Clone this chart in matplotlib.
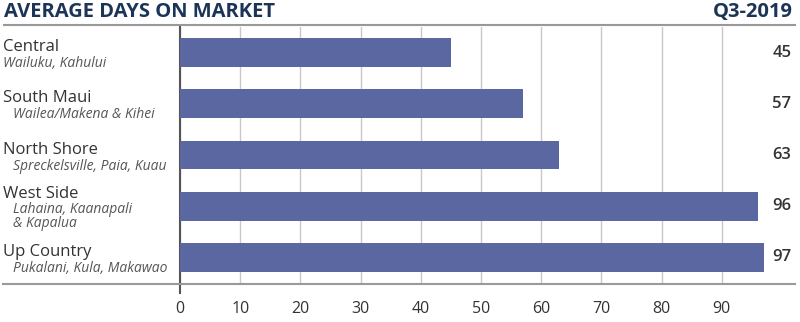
import matplotlib.pyplot as plt
from matplotlib.lines import Line2D

regions = ["Central", "South Maui", "North Shore", "West Side", "Up Country"]
subareas = ["Wailuku, Kahului", "Wailea/Makena & Kihei", "Spreckelsville, Paia, Kuau",
            "Lahaina, Kaanapali\n& Kapalua", "Pukalani, Kula, Makawao"]
sub_indent = [0, 1, 1, 1, 1]
days = [45, 57, 63, 96, 97]
xticks = [0, 10, 20, 30, 40, 50, 60, 70, 80, 90]
title = "AVERAGE DAYS ON MARKET"
period = "Q3-2019"

W, H = 800, 322
fig = plt.figure(figsize=(W / 100, H / 100), dpi=100)
plt.rcParams['font.family'] = ['Open Sans', 'DejaVu Sans']

def fx(px):
    return px / W

def fy(py):
    return 1 - py / H

ax = fig.add_axes([fx(180), fy(283), fx(770) - fx(180), fy(27) - fy(283)])
bar_color = "#5b67a0"
ypos = list(range(len(regions)))
ax.barh(ypos, days, height=0.56, color=bar_color, zorder=3)
ax.set_ylim(len(regions) - 0.5, -0.5)
ax.set_xlim(0, 98)
ax.set_xticks(xticks)
ax.set_xticklabels([str(t) for t in xticks], fontsize=11.5, color="#333333")
ax.tick_params(axis='x', length=0, pad=13)
ax.set_yticks([])
ax.grid(axis='x', color="#c8c8c8", linewidth=1, zorder=0)
for s in ['top', 'right', 'bottom']:
    ax.spines[s].set_visible(False)
ax.spines['left'].set_color("#555555")
ax.spines['left'].set_linewidth(1.5)
ax.spines['left'].set_bounds(-0.5, 4.7)

# value labels
for y, v in zip(ypos, days):
    ax.text(1.0 + (782 - 770) / (770 - 180), y, str(v), transform=ax.get_yaxis_transform(),
            ha='center', va='center', fontsize=12, color="#333333", fontweight='semibold')

# category labels
for y, (r, s, ind) in zip(ypos, zip(regions, subareas, sub_indent)):
    yc = 51.2 + y * 51.2
    sx = 3 if ind == 0 else 13
    if "\n" in s:
        fig.text(fx(3), fy(yc - 7), r, fontsize=12, color="#333333", ha='left', va='baseline')
        l1, l2 = s.split("\n")
        fig.text(fx(sx), fy(yc + 8), l1, fontsize=10, color="#555555", style='italic',
                 ha='left', va='baseline')
        fig.text(fx(sx), fy(yc + 22), l2, fontsize=10, color="#555555", style='italic',
                 ha='left', va='baseline')
    else:
        fig.text(fx(3), fy(yc), r, fontsize=12, color="#333333", ha='left', va='baseline')
        fig.text(fx(sx), fy(yc + 16), s, fontsize=10, color="#555555", style='italic',
                 ha='left', va='baseline')

# header
fig.text(fx(4), fy(12), title, fontsize=14.5, fontweight='bold', color="#1c3557",
         ha='left', va='center')
fig.text(fx(793), fy(12), period, fontsize=14.5, fontweight='bold', color="#1c3557",
         ha='right', va='center')
fig.add_artist(Line2D([fx(4), fx(795)], [fy(25), fy(25)], color="#999999", linewidth=1.5))
fig.add_artist(Line2D([fx(3), fx(795)], [fy(283.5), fy(283.5)], color="#999999", linewidth=1.5))

fig.savefig("out.png", dpi=100)
